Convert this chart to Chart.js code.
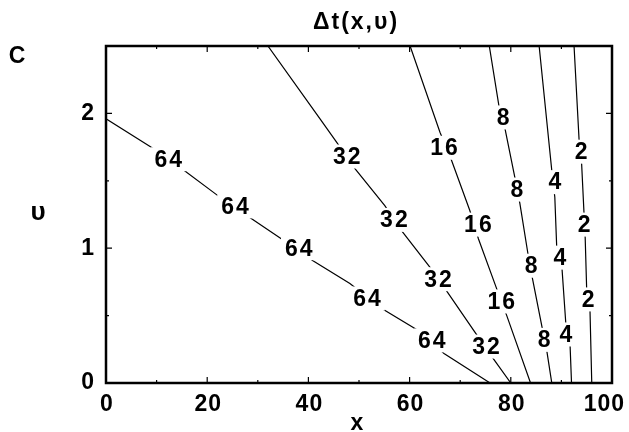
<!DOCTYPE html>
<html>
<head>
<meta charset="utf-8">
<script src="https://cdn.jsdelivr.net/npm/chart.js@4"></script>
<style>
  html, body { margin: 0; background: #fff; }
</style>
</head>
<body>
<canvas id="c" width="629" height="432"></canvas>
<script>
/* ----------------------------------------------------------
   DATA — contour lines of dt(x, v)
---------------------------------------------------------- */
const xTicks = [0, 20, 40, 60, 80, 100];
const yTicks = [0, 1, 2];

const levels = ["64", "32", "16", "8", "4", "2"];

const line64x = [0, 9.1, 14.6, 22.1, 27.9, 35.0, 40.9, 48.2, 54.5, 61.7, 66.8, 75.9];
const line64y = [1.96, 1.745, 1.60, 1.39, 1.24, 1.06, 0.907, 0.738, 0.553, 0.39, 0.219, 0];

const line32x = [32.0, 42.3, 45.6, 49.2, 55.1, 58.4, 64.0, 67.0, 72.9, 76.5, 80.0];
const line32y = [2.5, 1.96, 1.785, 1.59, 1.316, 1.131, 0.859, 0.70, 0.378, 0.183, 0];

const line16x = [60.1, 66.0, 68.3, 71.9, 73.6, 77.2, 79.2, 83.9];
const line16y = [2.5, 1.86, 1.65, 1.28, 1.07, 0.70, 0.50, 0];

const line8x = [75.75, 77.7, 78.85, 80.8, 81.8, 83.5, 84.1, 86.3, 87.1, 88.1];
const line8y = [2.5, 2.044, 1.887, 1.526, 1.331, 0.933, 0.81, 0.39, 0.242, 0];

const line4x = [85.6, 88.1, 88.7, 89.1, 90.1, 90.9, 91.7, 92.0];
const line4y = [2.5, 1.576, 1.378, 0.983, 0.859, 0.427, 0.294, 0];

const line2x = [92.5, 93.5, 94.0, 94.7, 95.0, 95.65, 96.0];
const line2y = [2.5, 1.80, 1.625, 1.08, 0.687, 0.539, 0];

// where the level numbers sit on each line (x, v)
const labels64 = [[12.3, 1.66], [25.5, 1.31], [38.1, 1.0], [51.6, 0.627], [64.4, 0.316]];
const labels32 = [[47.6, 1.68], [56.9, 1.21], [65.6, 0.77], [75.1, 0.27]];
const labels16 = [[66.8, 1.745], [73.5, 1.175], [78.1, 0.605]];
const labels8  = [[78.5, 1.97], [81.2, 1.435], [84.0, 0.87], [86.6, 0.32]];
const labels4  = [[88.7, 1.49], [89.7, 0.93], [90.9, 0.36]];
const labels2  = [[93.9, 1.716], [94.5, 1.175], [95.3, 0.62]];

const lineXs = [line64x, line32x, line16x, line8x, line4x, line2x];
const lineYs = [line64y, line32y, line16y, line8y, line4y, line2y];
const labelSets = [labels64, labels32, labels16, labels8, labels4, labels2];

const FONT = '"Liberation Sans", Arial, sans-serif';

/* ----------------------------------------------------------
   OVERLAY — level labels, frame, ticks, titles
---------------------------------------------------------- */
const overlay = {
  id: "overlay",
  afterDatasetsDraw(chart) {
    const ctx = chart.ctx;
    const xs = chart.scales.x, ys = chart.scales.y;
    ctx.save();
    ctx.font = "bold 23px " + FONT;
    ctx.letterSpacing = "2px";
    ctx.textAlign = "center";
    ctx.textBaseline = "middle";
    labelSets.forEach((set, i) => {
      const txt = levels[i];
      set.forEach(([lx, ly]) => {
        const px = xs.getPixelForValue(lx);
        const py = ys.getPixelForValue(ly);
        const w = ctx.measureText(txt).width;
        ctx.fillStyle = "#fff";
        ctx.fillRect(px - w / 2 - 3, py - 12, w + 6, 24);
        ctx.fillStyle = "#000";
        ctx.fillText(txt, px + 1, py + 1);
      });
    });
    ctx.restore();
  },
  afterDraw(chart) {
    const ctx = chart.ctx;
    const a = chart.chartArea;
    const xs = chart.scales.x, ys = chart.scales.y;
    ctx.save();

    // frame
    ctx.strokeStyle = "#000";
    ctx.lineWidth = 2.5;
    ctx.strokeRect(a.left, a.top, a.right - a.left, a.bottom - a.top);

    // inward tick marks
    ctx.lineWidth = 1.2;
    ctx.beginPath();
    for (let v = 0; v <= 100; v += 10) {
      const px = xs.getPixelForValue(v);
      const len = v % 20 === 0 ? 6 : 3;
      ctx.moveTo(px, a.bottom); ctx.lineTo(px, a.bottom - len);
      ctx.moveTo(px, a.top); ctx.lineTo(px, a.top + len);
    }
    for (let v = 0; v <= 2.5; v += 0.5) {
      const py = ys.getPixelForValue(v);
      const len = v % 1 === 0 ? 6 : 3;
      ctx.moveTo(a.left, py); ctx.lineTo(a.left + len, py);
      ctx.moveTo(a.right, py); ctx.lineTo(a.right - len, py);
    }
    ctx.stroke();

    // tick labels
    ctx.fillStyle = "#000";
    ctx.font = "bold 23px " + FONT;
    ctx.letterSpacing = "1px";
    ctx.textAlign = "center";
    ctx.textBaseline = "middle";
    xTicks.forEach(v => {
      const txt = String(v);
      const w = ctx.measureText(txt).width;
      let px = xs.getPixelForValue(v) + 1;
      if (px + w / 2 > 625) px = 625 - w / 2;
      ctx.fillText(txt, px, 405);
    });
    ctx.textAlign = "right";
    yTicks.forEach(v => ctx.fillText(String(v), 95, ys.getPixelForValue(v)));

    // titles
    ctx.letterSpacing = "2px";
    ctx.textAlign = "center";
    ctx.fillText("\u0394t(x,\u03c5)", 356, 23);
    ctx.textBaseline = "alphabetic";
    ctx.fillText("x", 358, 430);
    ctx.letterSpacing = "0px";
    ctx.textBaseline = "middle";
    ctx.fillText("C", 17, 57);
    ctx.font = "bold 26px " + FONT;
    ctx.fillText("\u03c5", 38, 213);

    ctx.restore();
  }
};

/* ----------------------------------------------------------
   CHART
---------------------------------------------------------- */
const datasets = lineXs.map((xsArr, i) => ({
  label: levels[i],
  data: xsArr.map((x, j) => ({ x: x, y: lineYs[i][j] })),
  showLine: true,
  borderColor: "#000",
  borderWidth: 1.2,
  pointRadius: 0,
  fill: false,
  tension: 0
}));

new Chart(document.getElementById("c"), {
  type: "scatter",
  data: { datasets },
  options: {
    responsive: false,
    animation: false,
    layout: { padding: { top: 46, right: 17, left: 0, bottom: 0 } },
    plugins: {
      legend: { display: false },
      tooltip: { enabled: false },
      title: { display: false }
    },
    scales: {
      x: {
        type: "linear", min: 0, max: 100,
        ticks: { display: false },
        grid: { display: false },
        border: { display: false },
        afterFit: s => { s.height = 49; }
      },
      y: {
        type: "linear", min: 0, max: 2.5,
        ticks: { display: false },
        grid: { display: false },
        border: { display: false },
        afterFit: s => { s.width = 106; }
      }
    }
  },
  plugins: [overlay]
});
</script>
</body>
</html>
